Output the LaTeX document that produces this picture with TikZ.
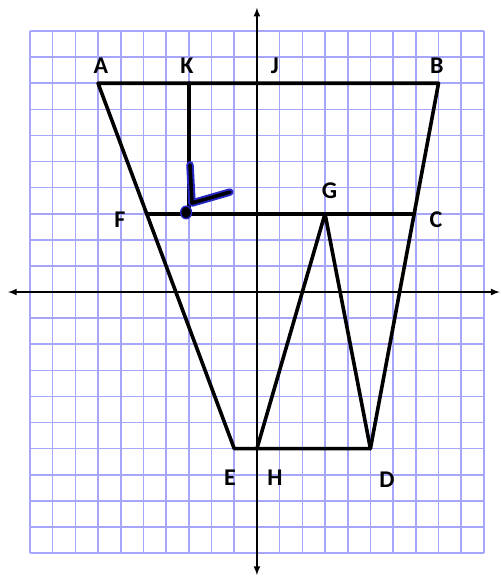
\documentclass[tikz,border=0pt]{standalone}
\usepackage{fontspec}
\setmainfont{Carlito}
\usetikzlibrary{arrows,calc}
\definecolor{gridblue}{RGB}{165,165,250}
\definecolor{markblue}{RGB}{40,40,200}
\tikzset{
  seg/.style={line width=3.6pt, line cap=round, line join=round},
  lab/.style={font=\fontsize{24}{28}\selectfont\bfseries, inner sep=0pt},
  axisline/.style={line width=2pt, >=latex}
}
\begin{document}
\begin{tikzpicture}[x=22.7pt,y=26.1pt]
  \useasboundingbox (-11.32,-10.92) rectangle (10.75,11.19);
  % grid
  \draw[gridblue, line width=1.6pt, step=1] (-10,-10) grid (10,10);
  % axes
  \coordinate (xl) at (-10.97,0);
  \coordinate (xr) at (10.7,0);
  \coordinate (yb) at (0,-10.85);
  \coordinate (yt) at (0,10.9);
  \draw[axisline, <->] (xl) -- (xr);
  \draw[axisline, <->] (yb) -- (yt);
  % points
  \coordinate (A) at (-7,8);
  \coordinate (K) at (-3,8);
  \coordinate (J) at (0,8);
  \coordinate (B) at (8,8);
  \coordinate (E) at (-1,-6);
  \coordinate (H) at (0,-6);
  \coordinate (D) at (5,-6);
  \coordinate (G) at (3,3);
  \coordinate (F) at ($(A)!5/14!(E)$);
  \coordinate (C) at ($(B)!5/14!(D)$);
  \coordinate (KF) at (-3,3);
  % figure
  \draw[seg] (A) -- (B) -- (D) -- (E) -- cycle;
  \draw[seg] (F) -- (C);
  \draw[seg] (K) -- (KF);
  \draw[seg] (H) -- (G) -- (D);
  % right angle mark
  \coordinate (m1) at (-2.95,4.87);
  \coordinate (m2) at (-2.86,3.41);
  \coordinate (m3) at (-1.19,3.83);
  \draw[markblue, line width=7.5pt, line cap=round, line join=round] (m1) -- (m2) -- (m3);
  \draw[black, line width=3.6pt, line cap=round, line join=round] (m1) -- (m2) -- (m3);
  \draw[markblue, fill=black, line width=1.4pt] (-3.12,3.05) circle(0.24);
  % labels
  \node[lab] (lA) at (-6.87,8.66) {A};
  \node[lab] (lK) at (-3.08,8.66) {K};
  \node[lab] (lJ) at (0.79,8.66) {J};
  \node[lab] (lB) at (7.93,8.66) {B};
  \node[lab] (lF) at (-6.04,2.76) {F};
  \node[lab] (lC) at (7.89,2.76) {C};
  \node[lab] (lG) at (3.2,3.9) {G};
  \node[lab] (lE) at (-1.19,-7.13) {E};
  \node[lab] (lH) at (0.79,-7.13) {H};
  \node[lab] (lD) at (5.73,-7.2) {D};
\end{tikzpicture}
\end{document}
